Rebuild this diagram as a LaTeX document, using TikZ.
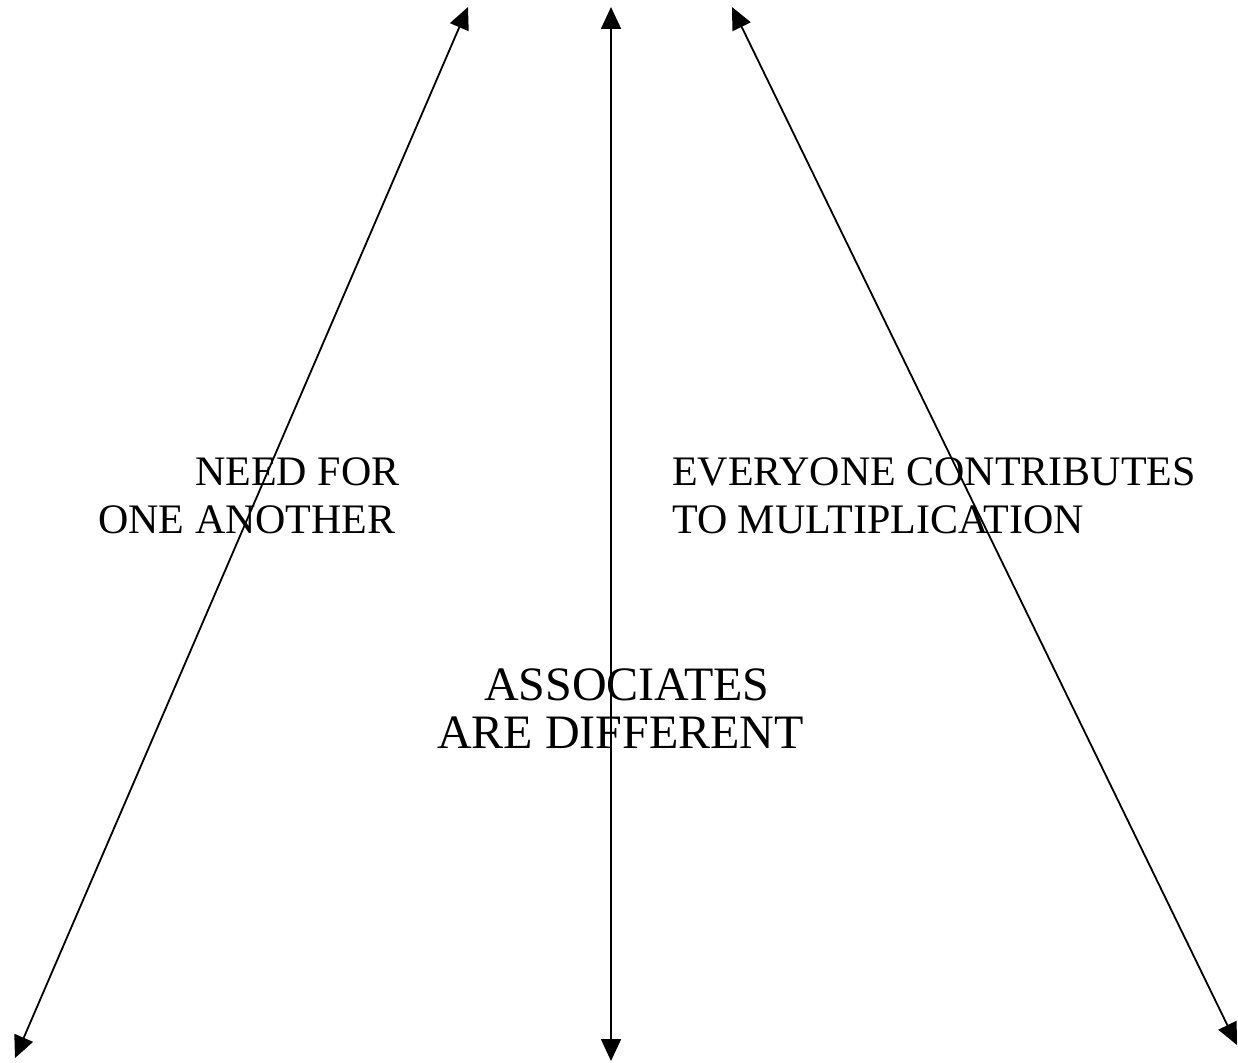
\documentclass[tikz,border=0pt]{standalone}
\usepackage{fontspec}
\setmainfont{Liberation Serif}
\usetikzlibrary{arrows.meta}
\begin{document}
\begin{tikzpicture}[x=1pt,y=-1pt,
  conn/.style={line width=1.8pt,{Triangle[length=22pt,width=20pt]}-{Triangle[length=22pt,width=20pt]}},
  lbl/.style={inner sep=0pt,anchor=base west,font=\fontsize{42}{48}\selectfont},
  biglbl/.style={inner sep=0pt,anchor=base west,font=\fontsize{48}{48}\selectfont}]
\useasboundingbox (0,0) rectangle (1238,1062);
\coordinate (lt) at (468,7);
\coordinate (lb) at (15,1058);
\coordinate (mt) at (611,7);
\coordinate (mb) at (611,1061);
\coordinate (rt) at (732,7);
\coordinate (rb) at (1237,1045);
\draw[conn] (lb) -- (lt);
\draw[conn] (mb) -- (mt);
\draw[conn] (rt) -- (rb);
\node[lbl] (need1) at (195,485) {NEED FOR};
\node[lbl] (need2) at (98,533) {ONE ANOTHER};
\node[lbl] (ev1) at (672,485) {EVERYONE CONTRIBUTES};
\node[lbl] (ev2) at (672,533) {TO MULTIPLICATION};
\node[biglbl] (as1) at (484,700) {ASSOCIATES};
\node[biglbl] (as2) at (437,748) {ARE DIFFERENT};
\end{tikzpicture}
\end{document}
